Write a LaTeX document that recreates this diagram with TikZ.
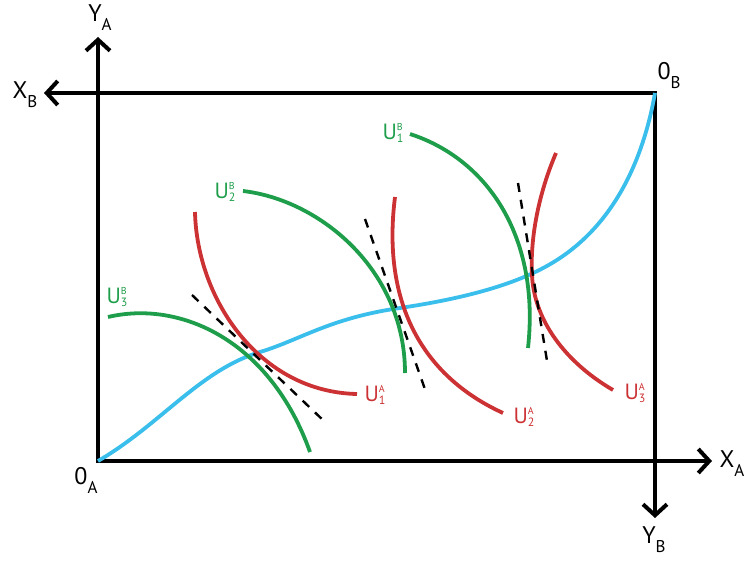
\documentclass[tikz,border=0pt]{standalone}
\usepackage{fontspec}
\setmainfont{PT Sans}
\usetikzlibrary{arrows.meta}

\begin{document}
\begin{tikzpicture}[x=1pt,y=-1pt]
    % 定义颜色
    \definecolor{curvered}{RGB}{204, 50, 52}
    \definecolor{curvegreen}{RGB}{30, 158, 74}
    \definecolor{curveblue}{RGB}{58, 190, 235}
    % 自定义命令：坐标轴标签（带下标）
    \newcommand{\AxisLab}[2]{#1\raisebox{-9pt}{\fontsize{17}{17}\selectfont #2}}
    % 自定义命令：无差异曲线标签（上标 + 下标）
    \newcommand{\ULab}[2]{U\raisebox{9pt}{\rlap{\fontsize{10}{10}\selectfont #1}}\raisebox{-3pt}{\fontsize{12}{12}\selectfont #2}}

    % --- 设置全局样式 ---
    \tikzset{AxisStyle/.style = {
        {Straight Barb[length=11pt,width=24pt]}-{Straight Barb[length=11pt,width=24pt]},
        line width=4pt,         % 线条粗细
        color=black             % 线条颜色
    }}
    \tikzset{CurveStyle/.style = {
        line width=3.8pt,       % 曲线粗细
        line cap=butt
    }}
    \tikzset{TangentStyle/.style = {
        line width=2.4pt,
        dash pattern=on 9pt off 8pt,
        color=black
    }}
    \tikzset{AxisLabStyle/.style = {
        inner sep=0pt,
        font=\fontsize{24}{28}\selectfont
    }}
    \tikzset{ULabStyle/.style = {
        inner sep=0pt,
        font=\fontsize{22}{26}\selectfont
    }}

    % 图片边界
    \useasboundingbox (0,0) rectangle (747,561);

    % --- 定义坐标 ---
    \coordinate (OA) at (98,461);    % A 的原点
    \coordinate (OB) at (655,93);    % B 的原点
    \coordinate (YAtip) at (98,37);
    \coordinate (XAtip) at (712,461);
    \coordinate (XBtip) at (44,93);
    \coordinate (YBtip) at (655,518);

    % --- 坐标轴 (埃奇沃思盒) ---
    \draw[AxisStyle] (YAtip) -- (OA) -- (XAtip);
    \draw[AxisStyle] (XBtip) -- (OB) -- (YBtip);

    % --- 契约曲线 ---
    \draw[CurveStyle, curveblue] (OA) .. controls (160,425) and (200,370) .. (260,352)
        .. controls (300,340) and (330,318) .. (400,308)
        .. controls (460,299) and (520,285) .. (560,258)
        .. controls (620,218) and (645,150) .. (OB);

    % --- A 的无差异曲线 ---
    \draw[CurveStyle, curvered] (195,212) .. controls (197,300) and (260,392) .. (357,394);
    \draw[CurveStyle, curvered] (395,197) .. controls (382,300) and (420,375) .. (503,413);
    \draw[CurveStyle, curvered] (556,153) .. controls (538,195) and (530,240) .. (532,275)
        .. controls (534,320) and (565,362) .. (613,390);

    % --- B 的无差异曲线 ---
    \draw[CurveStyle, curvegreen] (108,317) .. controls (180,300) and (270,340) .. (310,452);
    \draw[CurveStyle, curvegreen] (243,191) .. controls (320,200) and (405,270) .. (405,373);
    \draw[CurveStyle, curvegreen] (410,134) .. controls (490,160) and (540,240) .. (528,348);

    % --- 切线 (虚线) ---
    \draw[TangentStyle] (192,295) -- (325,422);
    \draw[TangentStyle] (365,219) -- (427,395);
    \draw[TangentStyle] (518,183) -- (548,367);

    % --- 坐标轴标签 ---
    \node[AxisLabStyle] (YAlab) at (100,18) {\AxisLab{Y}{A}};
    \node[AxisLabStyle] (XBlab) at (25,95) {\AxisLab{X}{B}};
    \node[AxisLabStyle] (OBlab) at (669,76) {\AxisLab{0}{B}};
    \node[AxisLabStyle] (OAlab) at (86,480) {\AxisLab{0}{A}};
    \node[AxisLabStyle] (XAlab) at (732,464) {\AxisLab{X}{A}};
    \node[AxisLabStyle] (YBlab) at (654,540) {\AxisLab{Y}{B}};

    % --- 曲线标签 ---
    \node[ULabStyle, text=curvegreen] (U1B) at (393,133) {\ULab{B}{1}};
    \node[ULabStyle, text=curvegreen] (U2B) at (225,192) {\ULab{B}{2}};
    \node[ULabStyle, text=curvegreen] (U3B) at (117,297) {\ULab{B}{3}};
    \node[ULabStyle, text=curvered] (U1A) at (375,395) {\ULab{A}{1}};
    \node[ULabStyle, text=curvered] (U2A) at (524,417) {\ULab{A}{2}};
    \node[ULabStyle, text=curvered] (U3A) at (635,393) {\ULab{A}{3}};

\end{tikzpicture}
\end{document}
